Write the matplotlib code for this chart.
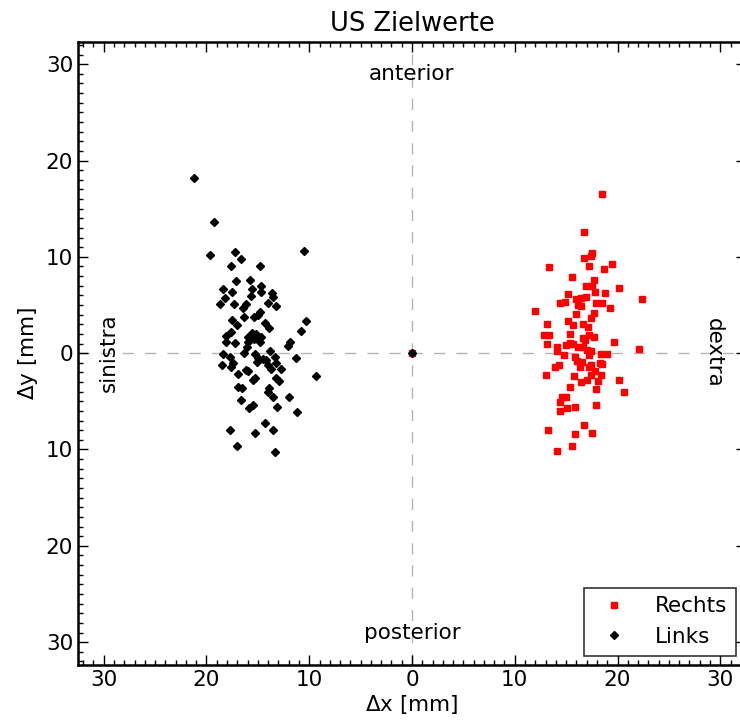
import matplotlib
matplotlib.use('Agg')
import matplotlib.pyplot as plt
from matplotlib.ticker import FuncFormatter, MultipleLocator

# Links (black diamonds), dx / dy in mm
links_x = [-21.25, -19.25, -19.7, -17.2, -16.6, -17.65, -14.8, -10.5, -17.1, -15.8,
           -14.7, -18.4, -17.5, -15.6, -14.7, -13.6, -13.5, -18.2, -15.7, -18.7,
           -17.3, -16.2, -16.45, -14.0, -13.2, -14.8, -15.0, -15.4, -16.3, -17.5,
           -17.0, -14.3, -13.9, -10.3, -10.8, -17.65, -18.1, -15.6, -15.15, -16.0,
           -15.4, -14.65, -18.1, -17.2, -16.0, -14.8, -11.9, -12.1, -16.1, -16.35,
           -18.4, -17.75, -15.3, -13.85, -15.0, -14.5, -13.3, -18.5, -17.4, -17.6,
           -15.1, -14.2, -14.0, -13.2, -13.7, -12.7, -11.3, -9.3, -16.9, -16.2,
           -16.0, -15.3, -15.5, -13.2, -12.95, -16.9, -16.5, -13.9, -14.0, -13.5,
           -12.0, -16.6, -15.5, -15.9, -13.1, -11.2, -14.3, -17.7, -15.25, -13.5,
           -17.0, -13.3, 0.0]
links_y = [18.2, 13.6, 10.2, 10.5, 9.8, 9.05, 9.0, 10.6, 7.46, 7.56,
           7.0, 6.7, 6.3, 6.7, 6.4, 6.2, 5.8, 5.7, 5.9, 5.15,
           5.15, 5.1, 4.7, 5.2, 4.9, 4.3, 4.0, 3.8, 3.76, 3.4,
           2.9, 3.1, 2.66, 3.3, 2.25, 2.2, 1.76, 2.1, 2.0, 1.7,
           1.5, 1.7, 1.2, 1.07, 1.2, 1.2, 1.2, 0.76, 0.65, 0.0,
           -0.1, -0.4, -0.1, 0.2, -0.55, -0.65, -0.4, -1.2, -1.0, -1.4,
           -0.9, -0.7, -1.25, -0.97, -1.66, -1.66, -0.45, -2.35, -2.2, -1.7,
           -1.9, -2.6, -2.8, -2.6, -2.9, -3.5, -3.66, -3.6, -4.0, -4.6,
           -4.55, -4.9, -5.4, -5.7, -5.55, -6.1, -7.3, -8.0, -8.3, -8.0,
           -9.6, -10.3, 0.0]

# Rechts (red squares)
rechts_x = [18.47, 16.7, 17.55, 17.45, 16.7, 19.5, 13.3, 17.2, 18.7, 15.55,
            17.7, 16.9, 17.55, 20.1, 17.8, 18.76, 15.2, 22.4, 16.0, 16.4,
            16.9, 14.4, 14.9, 16.2, 16.4, 17.9, 18.5, 19.25, 11.95, 16.0,
            17.7, 17.45, 15.2, 13.1, 15.7, 16.6, 17.1, 12.8, 13.3, 15.4,
            16.6, 17.2, 17.7, 16.8, 13.1, 14.1, 14.1, 15.0, 15.4, 15.7,
            16.2, 16.65, 17.0, 17.4, 19.7, 22.1, 14.8, 17.2, 18.4, 19.0,
            15.9, 16.1, 16.5, 14.3, 13.96, 16.3, 17.2, 17.4, 18.3, 18.5,
            17.8, 13.0, 15.8, 17.45, 18.35, 20.1, 16.4, 17.0, 18.1, 20.6,
            15.35, 17.95, 15.0, 14.55, 14.45, 14.45, 15.1, 15.9, 17.95, 16.7,
            13.2, 15.85, 17.55, 15.6, 14.1, 0.0]
rechts_y = [16.5, 12.6, 10.4, 10.1, 9.85, 9.25, 8.95, 9.0, 8.7, 7.9,
            7.56, 6.94, 6.94, 6.77, 6.35, 6.25, 6.1, 5.6, 5.63, 5.77,
            5.83, 5.2, 5.3, 5.0, 4.87, 5.2, 5.2, 4.7, 4.4, 4.1,
            4.2, 3.7, 3.35, 3.0, 2.9, 3.0, 2.7, 1.9, 1.9, 1.97,
            1.6, 1.9, 1.7, 1.35, 0.97, 0.59, 0.25, 0.86, 1.07, 0.93,
            0.65, 0.65, 0.3, 0.25, 1.14, 0.45, -0.17, -0.2, -0.07, -0.07,
            -0.38, -0.83, -0.9, -1.2, -1.4, -1.4, -1.4, -1.2, -1.0, -1.1,
            -1.83, -2.25, -2.4, -2.25, -2.25, -2.76, -2.97, -2.8, -2.9, -4.0,
            -3.5, -3.7, -4.5, -4.6, -5.05, -6.0, -5.66, -5.56, -5.35, -7.5,
            -7.95, -8.36, -8.26, -9.6, -10.2, 0.0]

fs = 15.5

fig = plt.figure(figsize=(7.4, 7.27), dpi=100)
# axes run slightly past the right edge of the picture (right spine cut off)
ax = fig.add_axes([0.1054, 0.0849, 0.9027, 0.8573])

ax.axvline(0, color='#b4b4b4', ls=(0, (8, 8)), lw=1.0, zorder=1)
ax.axhline(0, color='#b4b4b4', ls=(0, (8, 8)), lw=1.0, zorder=1)

ax.plot(rechts_x, rechts_y, 's', color='red', mec='red', ms=4.5, label='Rechts', zorder=3)
ax.plot(links_x, links_y, 'D', color='black', ms=4.2, label='Links', zorder=4)

ax.set_xlim(-32.5, 32.5)
ax.set_ylim(-32.4, 32.3)

fmt = FuncFormatter(lambda v, p: '%d' % abs(round(v)))
ax.xaxis.set_major_locator(MultipleLocator(10))
ax.yaxis.set_major_locator(MultipleLocator(10))
ax.xaxis.set_minor_locator(MultipleLocator(1))
ax.yaxis.set_minor_locator(MultipleLocator(1))
ax.xaxis.set_major_formatter(fmt)
ax.yaxis.set_major_formatter(fmt)
ax.tick_params(which='both', direction='in', top=True, right=True, labelsize=fs)
ax.tick_params(which='major', length=7, width=1)
ax.tick_params(which='minor', length=3.5, width=1)
for s in ax.spines.values():
    s.set_linewidth(1.8)

ax.text(0, 29.0, 'anterior', ha='center', va='center', fontsize=fs)
ax.text(0, -29.0, 'posterior', ha='center', va='center', fontsize=fs)
ax.text(-29.5, 0, 'sinistra', ha='center', va='center', rotation=90, fontsize=fs)
ax.text(29.4, 0, 'dextra', ha='center', va='center', rotation=270, fontsize=fs)

ax.set_title('US Zielwerte', fontsize=18.5, pad=8)
ax.set_xlabel('$\\Delta$x [mm]', fontsize=fs, labelpad=2)
ax.set_ylabel('$\\Delta$y [mm]', fontsize=fs, labelpad=4)

leg = ax.legend(loc='lower right', numpoints=1, fontsize=fs, fancybox=False,
                borderaxespad=0.45, handletextpad=0.9)
leg.get_frame().set_edgecolor('black')
leg.get_frame().set_linewidth(1.2)

fig.savefig('out.png', dpi=100)
